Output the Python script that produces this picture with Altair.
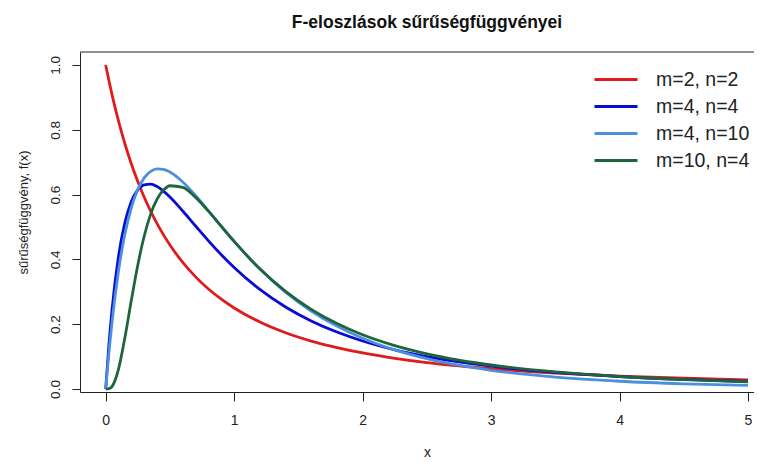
import altair as alt
import pandas as pd

# x grid
x_vals = [0, 0.025, 0.05, 0.1, 0.15, 0.2, 0.25, 0.3, 0.35, 0.4, 0.45, 0.5, 0.6, 0.7,
          0.8, 0.9, 1.0, 1.2, 1.4, 1.6, 1.8, 2.0, 2.25, 2.5, 2.75, 3.0, 3.5, 4.0, 4.5, 5.0]

f_2_2 = [1.0, 0.9518, 0.9070, 0.8264, 0.7561, 0.6944, 0.64, 0.5917, 0.5487, 0.5102,
         0.4756, 0.4444, 0.3906, 0.3460, 0.3086, 0.2770, 0.25, 0.2066, 0.1736, 0.1479,
         0.1276, 0.1111, 0.0947, 0.0816, 0.0711, 0.0625, 0.0494, 0.04, 0.0331, 0.0278]
f_4_4 = [0, 0.1359, 0.2468, 0.4098, 0.5146, 0.5787, 0.6144, 0.6302, 0.6322, 0.6247,
         0.6108, 0.5926, 0.5493, 0.5029, 0.4572, 0.4144, 0.375, 0.3074, 0.2532, 0.2101,
         0.1757, 0.1481, 0.1210, 0.1000, 0.0834, 0.0703, 0.0512, 0.0384, 0.0295, 0.0231]
f_4_10 = [0, 0.1119, 0.2089, 0.3648, 0.4788, 0.5601, 0.6158, 0.6514, 0.6714, 0.6794,
          0.6781, 0.6698, 0.6389, 0.5969, 0.5499, 0.5020, 0.4554, 0.3703, 0.2989, 0.2407,
          0.1940, 0.1568, 0.1208, 0.0938, 0.0733, 0.0577, 0.0366, 0.0239, 0.0160, 0.0110]
f_10_4 = [0, 0.0008, 0.0080, 0.0614, 0.1596, 0.2743, 0.3825, 0.4721, 0.5396, 0.5859,
          0.6139, 0.6273, 0.6221, 0.5913, 0.5487, 0.5017, 0.4554, 0.3708, 0.3012, 0.2458,
          0.2020, 0.1674, 0.1340, 0.1087, 0.0892, 0.0740, 0.0525, 0.0385, 0.0290, 0.0224]

labels = ["m=2, n=2", "m=4, n=4", "m=4, n=10", "m=10, n=4"]
colors = ["#DF1B1B", "#0A0AD6", "#4A90DF", "#1E643C"]
x_ticks = [0, 1, 2, 3, 4, 5]
y_ticks = [0.0, 0.2, 0.4, 0.6, 0.8, 1.0]

rows = []
for lab, ys in zip(labels, [f_2_2, f_4_4, f_4_10, f_10_4]):
    for xv, yv in zip(x_vals, ys):
        rows.append({"x": xv, "y": yv, "series": lab})
df = pd.DataFrame(rows)

W, H = 674, 340
FONT = "Liberation Sans"
TXT = "#222222"

xscale = alt.Scale(domain=[-0.2, 5.0467], nice=False, zero=False)
yscale = alt.Scale(domain=[-0.0093, 1.04], nice=False, zero=False)

xaxis = alt.Axis(values=x_ticks, format="d", grid=False, tickSize=9, tickColor=TXT,
                 domainColor=TXT, labelFont=FONT, labelFontSize=14, labelColor=TXT,
                 labelBaseline="middle", labelPadding=19,
                 title="x", titleFont=FONT, titleFontSize=14, titleFontWeight="normal",
                 titleColor=TXT, titleX=347, titleY=60, titleBaseline="middle",
                 titleAlign="center")
yaxis = alt.Axis(values=y_ticks, format=".1f", grid=False, tickSize=8, tickColor=TXT,
                 domainColor=TXT, labelFont=FONT, labelFontSize=13.5, labelColor=TXT,
                 labelAngle=270, labelAlign="center", labelBaseline="middle",
                 labelPadding=16.5,
                 title="sűrűségfüggvény, f(x)", titleFont=FONT, titleFontSize=13,
                 titleFontWeight="normal", titleColor=TXT, titleAngle=270,
                 titleX=-57, titleY=160, titleBaseline="middle", titleAlign="center")

legend = alt.Legend(title=None, orient="none", legendX=513, legendY=14,
                    symbolType="stroke", symbolSize=1849, symbolStrokeWidth=3,
                    labelFont=FONT, labelFontSize=19.5, labelColor=TXT,
                    labelOffset=17, clipHeight=27, rowPadding=0, padding=0)

color = alt.Color("series:N", scale=alt.Scale(domain=labels, range=colors),
                  sort=labels, legend=legend)

layers = []
for lab in labels:
    layers.append(
        alt.Chart(df).transform_filter(alt.datum.series == lab)
        .mark_line(strokeWidth=2.8, interpolate="monotone")
        .encode(x=alt.X("x:Q", scale=xscale, axis=xaxis),
                y=alt.Y("y:Q", scale=yscale, axis=yaxis),
                color=color)
    )

top_border = alt.Chart(alt.Data(values=[{"k": 1}])).mark_rule(
    color=TXT, strokeWidth=1).encode(x=alt.value(0), x2=alt.value(W), y=alt.value(0))

chart = alt.layer(*layers, top_border).properties(
    width=W, height=H,
    title=alt.TitleParams("F-eloszlások sűrűségfüggvényei", font=FONT, fontSize=17.5,
                          fontWeight="bold", color="#111111", anchor="middle",
                          dx=10, offset=20),
    autosize=alt.AutoSizeParams(type="none"),
    padding={"left": 72, "top": 44, "right": 0, "bottom": 68},
).configure_view(stroke=None)

chart.save("out.html", embed_options={"renderer": "svg", "actions": False})
